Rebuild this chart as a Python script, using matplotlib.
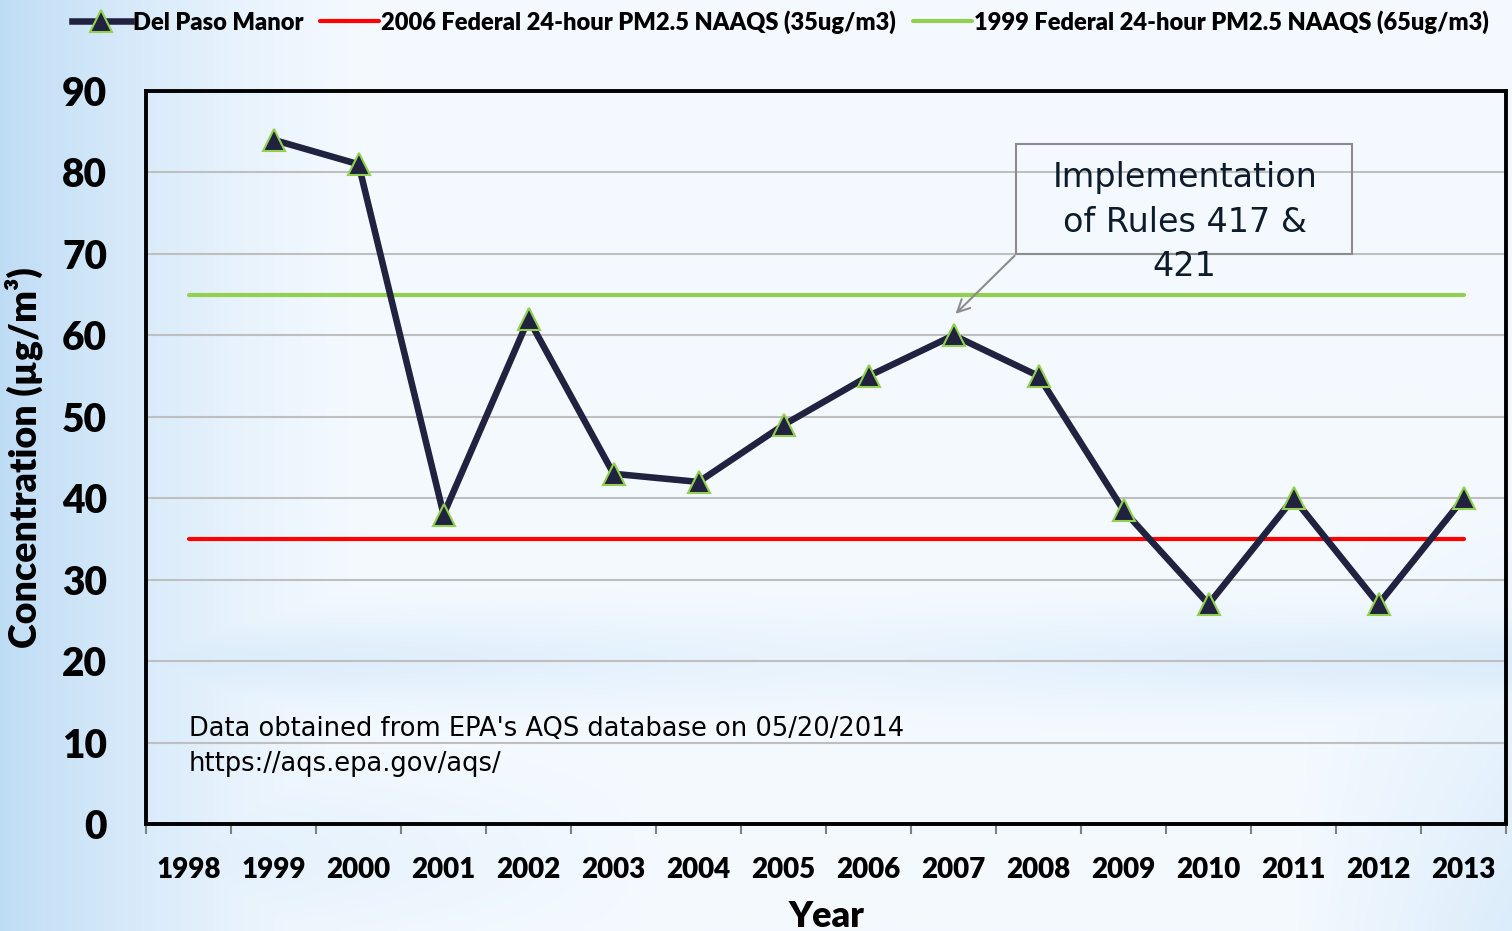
import matplotlib
matplotlib.use('Agg')
import matplotlib.pyplot as plt
import numpy as np
from matplotlib.patches import Rectangle
from matplotlib.ticker import FixedLocator

years = ['1998', '1999', '2000', '2001', '2002', '2003', '2004', '2005',
         '2006', '2007', '2008', '2009', '2010', '2011', '2012', '2013']
del_paso = [None, 84, 81, 38, 62, 43, 42, 49, 55, 60, 55, 38.5, 27, 40, 27, 40]
naaqs_2006 = 35
naaqs_1999 = 65

fig = plt.figure(figsize=(15.12, 9.31), dpi=100)

# slide-like blue gradient background
bg = fig.add_axes([0, 0, 1, 1], zorder=-10)
h, w = 200, 320
yy, xx = np.mgrid[0:h, 0:w]
xf = xx / (w - 1)
yf = yy / (h - 1)  # 0 top, 1 bottom
white = np.array([0.96, 0.98, 1.0])
blue = np.array([0.74, 0.86, 0.96])
k = np.clip(1 - xf / 0.25, 0, 1) ** 1.4 * 0.95
k = np.maximum(k, 0.5 * np.exp(-((yf - 0.71) / 0.05) ** 2) * (0.4 + 0.6 * np.abs(xf - 0.55) / 0.55))
k = np.maximum(k, 0.45 * np.exp(-((yf - 0.92) / 0.09) ** 2) * np.clip(1 - xf / 0.45, 0, 1))
k = np.maximum(k, 0.45 * np.clip((xf - 0.85) / 0.15, 0, 1) * np.clip((yf - 0.5) / 0.5, 0, 1))
img = white[None, None, :] * (1 - k[..., None]) + blue[None, None, :] * k[..., None]
bg.imshow(img, aspect='auto', extent=[0, 1, 0, 1], interpolation='bicubic')
bg.axis('off')

ax = fig.add_axes([0.0966, 0.1149, 0.8995, 0.7874])
ax.set_facecolor('none')

x = np.arange(len(years))
pts = [(i, v) for i, v in zip(x, del_paso) if v is not None]
px = [p[0] for p in pts]
py = [p[1] for p in pts]

ax.plot(x, [naaqs_2006] * len(x), color='#ff0000', lw=3, solid_capstyle='round',
        zorder=3, label='2006 Federal 24-hour PM2.5 NAAQS (35ug/m3)')
ax.plot(x, [naaqs_1999] * len(x), color='#92d050', lw=3, solid_capstyle='round',
        zorder=3, label='1999 Federal 24-hour PM2.5 NAAQS (65ug/m3)')
ax.plot(px, py, color='#20223f', lw=4.7, marker='^', ms=16.5, mfc='#20223f',
        mec='#92d050', mew=1.5, zorder=4, label='Del Paso Manor')

ax.set_xlim(-0.5, len(years) - 0.5)
ax.set_ylim(0, 90)
ax.set_yticks(range(0, 91, 10))
ax.set_xticks(x)
ax.set_xticklabels(years)
ax.xaxis.set_minor_locator(FixedLocator(np.arange(-0.5, len(years), 1)))
ax.tick_params(axis='x', which='major', length=0, pad=24, labelsize=20)
ax.tick_params(axis='x', which='minor', length=7, width=1.5, color='#808080', direction='out')
ax.tick_params(axis='y', length=0, pad=28, labelsize=28)
for lab in ax.get_xticklabels() + ax.get_yticklabels():
    lab.set_fontfamily('Lato')
    lab.set_fontweight('heavy')

ax.grid(True, axis='y', color='#bfbfbf', lw=1.5, zorder=0)
ax.set_axisbelow(True)
for s in ax.spines.values():
    s.set_color('black')
    s.set_linewidth(2.8)

ax.set_xlabel('Year', family='Lato', weight='heavy', fontsize=26, labelpad=12)
ax.set_ylabel('Concentration (µg/m³)', family='Lato', weight='heavy', fontsize=27, labelpad=14)

# annotation box with arrow
ax.add_patch(Rectangle((9.74, 70.0), 3.95, 13.5, fill=False, ec='#8c8c8c', lw=1.5, zorder=5))
ax.annotate('', xy=(9, 62.4), xytext=(9.74, 70.0),
            arrowprops=dict(arrowstyle='->', color='#8c8c8c', lw=1.5, mutation_scale=22), zorder=5)
ax.text(11.72, 73.9, 'Implementation\nof Rules 417 &\n421', ha='center', va='center',
        fontsize=24, color='#0d1b2a', family='DejaVu Sans', linespacing=1.45, zorder=6)

ax.text(0.0, 9.5, "Data obtained from EPA's AQS database on 05/20/2014\nhttps://aqs.epa.gov/aqs/",
        ha='left', va='center', fontsize=18.5, color='black', family='DejaVu Sans', linespacing=1.45)

handles, labels = ax.get_legend_handles_labels()
order = [2, 0, 1]
leg = fig.legend([handles[i] for i in order], [labels[i] for i in order], loc='upper center',
                 bbox_to_anchor=(0.516, 1.012), ncol=3, frameon=False, handlelength=2.5,
                 handletextpad=0.1, columnspacing=0.7, prop={'family': 'Lato', 'weight': 'heavy', 'size': 17})

fig.savefig('out.png', dpi=100)
